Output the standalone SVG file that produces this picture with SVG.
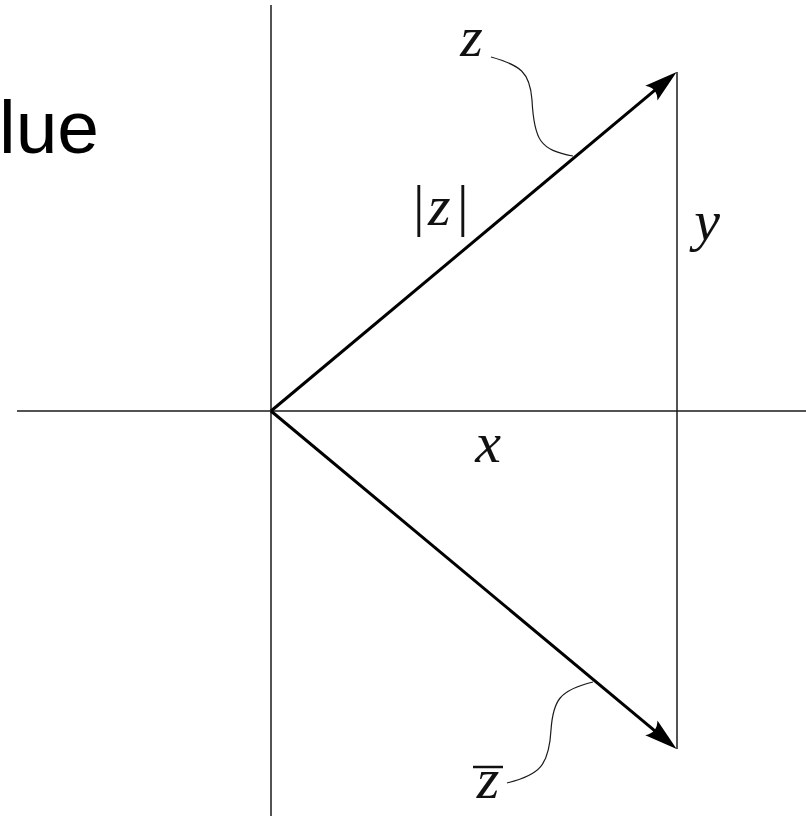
<svg xmlns="http://www.w3.org/2000/svg" width="806" height="816" viewBox="0 0 806 816">
<style>
.axis{stroke:#1a1a1a;stroke-width:1.5;fill:none}
.vec{stroke:#000;stroke-width:3;fill:none}
.lead{stroke:#1a1a1a;stroke-width:1.2;fill:none}
.m{font-family:"Liberation Serif",serif;font-style:italic;font-size:58px;fill:#111}
.up{font-style:normal}
</style>
<defs>
<marker id="ah" markerUnits="userSpaceOnUse" orient="auto" refX="0" refY="0" markerWidth="40" markerHeight="30" overflow="visible">
<path d="M10,0 L-23,-9.5 Q-15,0 -23,9.5 Z" fill="#000"/>
</marker>
</defs>
<rect width="806" height="816" fill="#fff"/>
<text x="-1" y="153" font-family="Liberation Sans,Arial,sans-serif" font-size="75" fill="#000">lue</text>
<g id="axes">
<line class="axis" x1="17" y1="411" x2="806" y2="411"/>
<line class="axis" x1="271" y1="5" x2="271" y2="816"/>
</g>
<g id="connectors">
<line class="axis" x1="677" y1="72" x2="677" y2="749"/>
<line class="vec" x1="271" y1="411" x2="669" y2="78.4" marker-end="url(#ah)"/>
<line class="vec" x1="271" y1="411" x2="669" y2="742.6" marker-end="url(#ah)"/>
<path class="lead" d="M491,57 C520,65 530,72 532,100 C534,140 540,150 573,156"/>
<path class="lead" d="M593,682 C560,690 553,700 551,730 C549,765 540,775 507,783"/>
</g>
<g id="labels">
<text class="m" x="471.5" y="56" text-anchor="middle">z</text>
<text class="m"><tspan class="up" x="413" y="225">|</tspan><tspan x="428" y="225">z</tspan><tspan class="up" x="457" y="225">|</tspan></text>
<text class="m" x="707" y="240" text-anchor="middle">y</text>
<text class="m" x="488" y="462" text-anchor="middle">x</text>
<text class="m" x="488" y="798" text-anchor="middle">z</text>
<line x1="473" y1="767" x2="503" y2="767" stroke="#111" stroke-width="2.5"/>
</g>
</svg>
